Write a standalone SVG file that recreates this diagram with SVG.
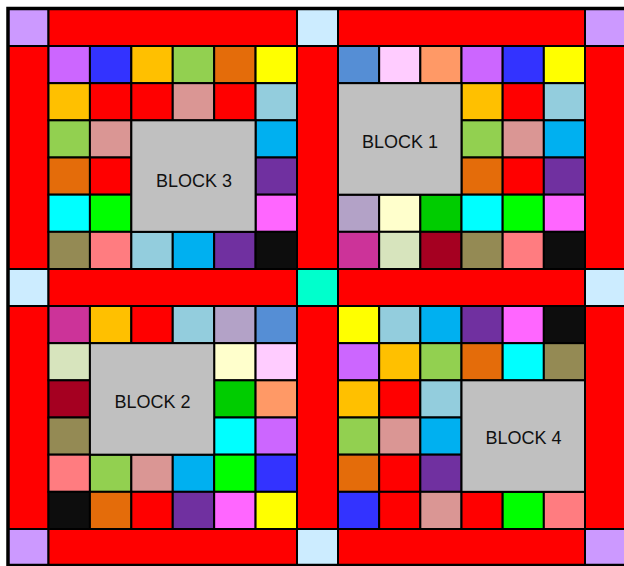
<svg xmlns="http://www.w3.org/2000/svg" width="624" height="566" viewBox="0 0 624 566">
<style>
rect{stroke:#000;stroke-width:2}
.P{fill:#CC99FF}.LB{fill:#CCECFF}.T{fill:#00FFCC}.R,.r{fill:#FF0000}
.a{fill:#CC66FF}.b{fill:#3333FF}.o{fill:#FFC000}.g{fill:#92D050}.e{fill:#E46C0A}.y{fill:#FFFF00}
.k{fill:#DA9694}.l{fill:#93CDDD}.s{fill:#00B0F0}.v{fill:#7030A0}.c{fill:#00FFFF}.n{fill:#00FF00}
.m{fill:#FF66FF}.ol{fill:#948A54}.sa{fill:#FF7C80}.bk{fill:#0D0D0D}.sb{fill:#558ED5}.lp{fill:#FFCCFF}
.pe{fill:#FF9966}.lv{fill:#B3A2C7}.ly{fill:#FFFFCC}.dg{fill:#00CC00}.mp{fill:#CC3399}.lg{fill:#D7E4BD}
.dr{fill:#A50021}.gr{fill:#C0C0C0}
text{font-family:"Liberation Sans",Arial,sans-serif;font-size:18px;fill:#111;text-anchor:middle}
</style>
<g id="sashing">
<rect class="P" x="8" y="8.5" width="40.5" height="37.5"/>
<rect class="R" x="48.5" y="8.5" width="248.5" height="37.5"/>
<rect class="LB" x="297" y="8.5" width="41" height="37.5"/>
<rect class="R" x="338" y="8.5" width="247" height="37.5"/>
<rect class="P" x="585" y="8.5" width="43" height="37.5"/>
<rect class="R" x="8" y="46" width="40.5" height="223"/>
<rect class="R" x="297" y="46" width="41" height="223"/>
<rect class="R" x="585" y="46" width="43" height="223"/>
<rect class="LB" x="8" y="269" width="40.5" height="37"/>
<rect class="R" x="48.5" y="269" width="248.5" height="37"/>
<rect class="T" x="297" y="269" width="41" height="37"/>
<rect class="R" x="338" y="269" width="247" height="37"/>
<rect class="LB" x="585" y="269" width="43" height="37"/>
<rect class="R" x="8" y="306" width="40.5" height="223"/>
<rect class="R" x="297" y="306" width="41" height="223"/>
<rect class="R" x="585" y="306" width="43" height="223"/>
<rect class="P" x="8" y="529" width="40.5" height="37"/>
<rect class="R" x="48.5" y="529" width="248.5" height="37"/>
<rect class="LB" x="297" y="529" width="41" height="37"/>
<rect class="R" x="338" y="529" width="247" height="37"/>
<rect class="P" x="585" y="529" width="43" height="37"/>
</g>
<g id="block3">
<rect class="a" x="48.5" y="46" width="41.42" height="37.17"/>
<rect class="b" x="89.92" y="46" width="41.42" height="37.17"/>
<rect class="o" x="131.33" y="46" width="41.42" height="37.17"/>
<rect class="g" x="172.75" y="46" width="41.42" height="37.17"/>
<rect class="e" x="214.17" y="46" width="41.42" height="37.17"/>
<rect class="y" x="255.58" y="46" width="41.42" height="37.17"/>
<rect class="o" x="48.5" y="83.17" width="41.42" height="37.17"/>
<rect class="r" x="89.92" y="83.17" width="41.42" height="37.17"/>
<rect class="r" x="131.33" y="83.17" width="41.42" height="37.17"/>
<rect class="k" x="172.75" y="83.17" width="41.42" height="37.17"/>
<rect class="r" x="214.17" y="83.17" width="41.42" height="37.17"/>
<rect class="l" x="255.58" y="83.17" width="41.42" height="37.17"/>
<rect class="g" x="48.5" y="120.33" width="41.42" height="37.17"/>
<rect class="k" x="89.92" y="120.33" width="41.42" height="37.17"/>
<rect class="s" x="255.58" y="120.33" width="41.42" height="37.17"/>
<rect class="e" x="48.5" y="157.5" width="41.42" height="37.17"/>
<rect class="r" x="89.92" y="157.5" width="41.42" height="37.17"/>
<rect class="v" x="255.58" y="157.5" width="41.42" height="37.17"/>
<rect class="c" x="48.5" y="194.67" width="41.42" height="37.17"/>
<rect class="n" x="89.92" y="194.67" width="41.42" height="37.17"/>
<rect class="m" x="255.58" y="194.67" width="41.42" height="37.17"/>
<rect class="ol" x="48.5" y="231.83" width="41.42" height="37.17"/>
<rect class="sa" x="89.92" y="231.83" width="41.42" height="37.17"/>
<rect class="l" x="131.33" y="231.83" width="41.42" height="37.17"/>
<rect class="s" x="172.75" y="231.83" width="41.42" height="37.17"/>
<rect class="v" x="214.17" y="231.83" width="41.42" height="37.17"/>
<rect class="bk" x="255.58" y="231.83" width="41.42" height="37.17"/>
<rect class="gr" x="131.33" y="120.33" width="124.25" height="111.5"/>
<text x="194" y="187">BLOCK 3</text>
</g>
<g id="block1">
<rect class="sb" x="338" y="46" width="41.17" height="37.17"/>
<rect class="lp" x="379.17" y="46" width="41.17" height="37.17"/>
<rect class="pe" x="420.33" y="46" width="41.17" height="37.17"/>
<rect class="a" x="461.5" y="46" width="41.17" height="37.17"/>
<rect class="b" x="502.67" y="46" width="41.17" height="37.17"/>
<rect class="y" x="543.83" y="46" width="41.17" height="37.17"/>
<rect class="o" x="461.5" y="83.17" width="41.17" height="37.17"/>
<rect class="r" x="502.67" y="83.17" width="41.17" height="37.17"/>
<rect class="l" x="543.83" y="83.17" width="41.17" height="37.17"/>
<rect class="g" x="461.5" y="120.33" width="41.17" height="37.17"/>
<rect class="k" x="502.67" y="120.33" width="41.17" height="37.17"/>
<rect class="s" x="543.83" y="120.33" width="41.17" height="37.17"/>
<rect class="e" x="461.5" y="157.5" width="41.17" height="37.17"/>
<rect class="r" x="502.67" y="157.5" width="41.17" height="37.17"/>
<rect class="v" x="543.83" y="157.5" width="41.17" height="37.17"/>
<rect class="lv" x="338" y="194.67" width="41.17" height="37.17"/>
<rect class="ly" x="379.17" y="194.67" width="41.17" height="37.17"/>
<rect class="dg" x="420.33" y="194.67" width="41.17" height="37.17"/>
<rect class="c" x="461.5" y="194.67" width="41.17" height="37.17"/>
<rect class="n" x="502.67" y="194.67" width="41.17" height="37.17"/>
<rect class="m" x="543.83" y="194.67" width="41.17" height="37.17"/>
<rect class="mp" x="338" y="231.83" width="41.17" height="37.17"/>
<rect class="lg" x="379.17" y="231.83" width="41.17" height="37.17"/>
<rect class="dr" x="420.33" y="231.83" width="41.17" height="37.17"/>
<rect class="ol" x="461.5" y="231.83" width="41.17" height="37.17"/>
<rect class="sa" x="502.67" y="231.83" width="41.17" height="37.17"/>
<rect class="bk" x="543.83" y="231.83" width="41.17" height="37.17"/>
<rect class="gr" x="338" y="83.17" width="123.5" height="111.5"/>
<text x="400" y="148">BLOCK 1</text>
</g>
<g id="block2">
<rect class="mp" x="48.5" y="306" width="41.42" height="37.17"/>
<rect class="o" x="89.92" y="306" width="41.42" height="37.17"/>
<rect class="r" x="131.33" y="306" width="41.42" height="37.17"/>
<rect class="l" x="172.75" y="306" width="41.42" height="37.17"/>
<rect class="lv" x="214.17" y="306" width="41.42" height="37.17"/>
<rect class="sb" x="255.58" y="306" width="41.42" height="37.17"/>
<rect class="lg" x="48.5" y="343.17" width="41.42" height="37.17"/>
<rect class="ly" x="214.17" y="343.17" width="41.42" height="37.17"/>
<rect class="lp" x="255.58" y="343.17" width="41.42" height="37.17"/>
<rect class="dr" x="48.5" y="380.33" width="41.42" height="37.17"/>
<rect class="dg" x="214.17" y="380.33" width="41.42" height="37.17"/>
<rect class="pe" x="255.58" y="380.33" width="41.42" height="37.17"/>
<rect class="ol" x="48.5" y="417.5" width="41.42" height="37.17"/>
<rect class="c" x="214.17" y="417.5" width="41.42" height="37.17"/>
<rect class="a" x="255.58" y="417.5" width="41.42" height="37.17"/>
<rect class="sa" x="48.5" y="454.67" width="41.42" height="37.17"/>
<rect class="g" x="89.92" y="454.67" width="41.42" height="37.17"/>
<rect class="k" x="131.33" y="454.67" width="41.42" height="37.17"/>
<rect class="s" x="172.75" y="454.67" width="41.42" height="37.17"/>
<rect class="n" x="214.17" y="454.67" width="41.42" height="37.17"/>
<rect class="b" x="255.58" y="454.67" width="41.42" height="37.17"/>
<rect class="bk" x="48.5" y="491.83" width="41.42" height="37.17"/>
<rect class="e" x="89.92" y="491.83" width="41.42" height="37.17"/>
<rect class="r" x="131.33" y="491.83" width="41.42" height="37.17"/>
<rect class="v" x="172.75" y="491.83" width="41.42" height="37.17"/>
<rect class="m" x="214.17" y="491.83" width="41.42" height="37.17"/>
<rect class="y" x="255.58" y="491.83" width="41.42" height="37.17"/>
<rect class="gr" x="89.92" y="343.17" width="124.25" height="111.5"/>
<text x="152.5" y="408">BLOCK 2</text>
</g>
<g id="block4">
<rect class="y" x="338" y="306" width="41.17" height="37.17"/>
<rect class="l" x="379.17" y="306" width="41.17" height="37.17"/>
<rect class="s" x="420.33" y="306" width="41.17" height="37.17"/>
<rect class="v" x="461.5" y="306" width="41.17" height="37.17"/>
<rect class="m" x="502.67" y="306" width="41.17" height="37.17"/>
<rect class="bk" x="543.83" y="306" width="41.17" height="37.17"/>
<rect class="a" x="338" y="343.17" width="41.17" height="37.17"/>
<rect class="o" x="379.17" y="343.17" width="41.17" height="37.17"/>
<rect class="g" x="420.33" y="343.17" width="41.17" height="37.17"/>
<rect class="e" x="461.5" y="343.17" width="41.17" height="37.17"/>
<rect class="c" x="502.67" y="343.17" width="41.17" height="37.17"/>
<rect class="ol" x="543.83" y="343.17" width="41.17" height="37.17"/>
<rect class="o" x="338" y="380.33" width="41.17" height="37.17"/>
<rect class="r" x="379.17" y="380.33" width="41.17" height="37.17"/>
<rect class="l" x="420.33" y="380.33" width="41.17" height="37.17"/>
<rect class="g" x="338" y="417.5" width="41.17" height="37.17"/>
<rect class="k" x="379.17" y="417.5" width="41.17" height="37.17"/>
<rect class="s" x="420.33" y="417.5" width="41.17" height="37.17"/>
<rect class="e" x="338" y="454.67" width="41.17" height="37.17"/>
<rect class="r" x="379.17" y="454.67" width="41.17" height="37.17"/>
<rect class="v" x="420.33" y="454.67" width="41.17" height="37.17"/>
<rect class="b" x="338" y="491.83" width="41.17" height="37.17"/>
<rect class="r" x="379.17" y="491.83" width="41.17" height="37.17"/>
<rect class="k" x="420.33" y="491.83" width="41.17" height="37.17"/>
<rect class="r" x="461.5" y="491.83" width="41.17" height="37.17"/>
<rect class="n" x="502.67" y="491.83" width="41.17" height="37.17"/>
<rect class="sa" x="543.83" y="491.83" width="41.17" height="37.17"/>
<rect class="gr" x="461.5" y="380.33" width="123.5" height="111.5"/>
<text x="523.5" y="444">BLOCK 4</text>
</g>
<rect id="border" x="8" y="8.5" width="622" height="557" fill="none" style="stroke:#000;stroke-width:3.5"/>
</svg>
